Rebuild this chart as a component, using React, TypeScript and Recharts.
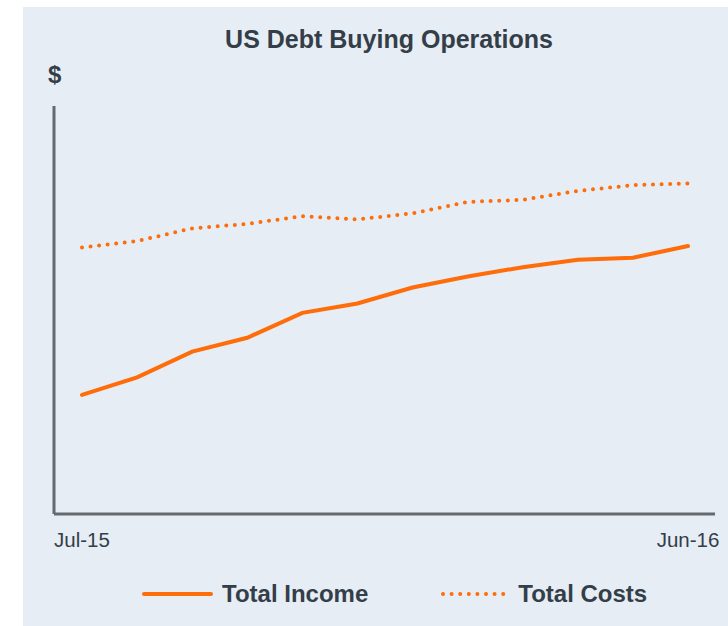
import { LineChart, Line, XAxis, YAxis, Legend } from "recharts";

const months = ["Jul-15", "Aug-15", "Sep-15", "Oct-15", "Nov-15", "Dec-15", "Jan-16", "Feb-16", "Mar-16", "Apr-16", "May-16", "Jun-16"];
const totalIncome = [29.2, 33.5, 39.8, 43.2, 49.3, 51.6, 55.5, 58.2, 60.5, 62.3, 62.8, 65.7];
const totalCosts = [65.3, 66.9, 70.0, 71.1, 73.0, 72.2, 73.7, 76.5, 77.0, 79.2, 80.6, 81.0];
const shownTicks = ["Jul-15", "Jun-16"];

const ORANGE = "#ff6c0a";
const TEXT = "#343e48";
const AXIS = "#666a6e";
const FONT = "'Liberation Sans', Arial, sans-serif";

const series = [
  { key: "income", name: "Total Income", dash: undefined as string | undefined },
  { key: "costs", name: "Total Costs", dash: "0 8.6" },
];

const data = months.map((m, i) => ({ month: m, income: totalIncome[i], costs: totalCosts[i] }));

function LegendContent() {
  return (
    <div style={{ height: 72, display: "flex", paddingLeft: 142, fontFamily: FONT }}>
      {series.map((s, i) => (
        <div
          key={s.key}
          style={{ display: "flex", alignItems: "center", marginTop: 28, height: 24, marginLeft: i === 0 ? 0 : 73 }}
        >
          <svg width={s.dash ? 66 : 71} height={8} style={{ marginRight: s.dash ? 11 : 9 }}>
            <line
              x1={2}
              y1={4}
              x2={s.dash ? 64 : 69}
              y2={4}
              stroke={ORANGE}
              strokeWidth={4}
              strokeLinecap="round"
              strokeDasharray={s.dash}
            />
          </svg>
          <span style={{ fontSize: 24, lineHeight: "24px", fontWeight: "bold", color: TEXT }}>{s.name}</span>
        </div>
      ))}
    </div>
  );
}

export default function App() {
  return (
    <div style={{ position: "absolute", left: 0, top: 0, width: 728, height: 626, background: "#fff", overflow: "hidden" }}>
      <div style={{ position: "absolute", left: 23, top: 7, width: 705, height: 619, background: "#e6edf4" }} />
      <div
        style={{
          position: "absolute",
          left: 189,
          top: 27,
          width: 400,
          textAlign: "center",
          fontFamily: FONT,
          fontWeight: "bold",
          fontSize: 25,
          lineHeight: "25px",
          color: TEXT,
        }}
      >
        US Debt Buying Operations
      </div>
      <div
        style={{
          position: "absolute",
          left: 48,
          top: 63,
          fontFamily: FONT,
          fontWeight: "bold",
          fontSize: 24,
          lineHeight: "24px",
          color: TEXT,
        }}
      >
        $
      </div>
      <div style={{ position: "absolute", left: 0, top: 0 }}>
        <LineChart width={728} height={626} data={data} margin={{ top: 106, right: 13, left: 0, bottom: 0 }}>
          <YAxis
            domain={[0, 100]}
            width={54}
            tick={false}
            tickLine={false}
            axisLine={{ stroke: AXIS, strokeWidth: 3 }}
          />
          <XAxis
            dataKey="month"
            ticks={shownTicks}
            interval={0}
            height={40}
            padding={{ left: 28, right: 27 }}
            tickLine={false}
            tickMargin={12}
            axisLine={{ stroke: AXIS, strokeWidth: 3 }}
            tick={{ fill: TEXT, fontSize: 20.5, fontFamily: FONT }}
          />
          {series.map((s) => (
            <Line
              key={s.key}
              dataKey={s.key}
              name={s.name}
              type="linear"
              stroke={ORANGE}
              strokeWidth={4}
              strokeDasharray={s.dash}
              strokeLinecap="round"
              dot={false}
              activeDot={false}
              isAnimationActive={false}
            />
          ))}
          <Legend verticalAlign="bottom" content={<LegendContent />} wrapperStyle={{ left: 0, width: 728, bottom: 0 }} />
        </LineChart>
      </div>
    </div>
  );
}
